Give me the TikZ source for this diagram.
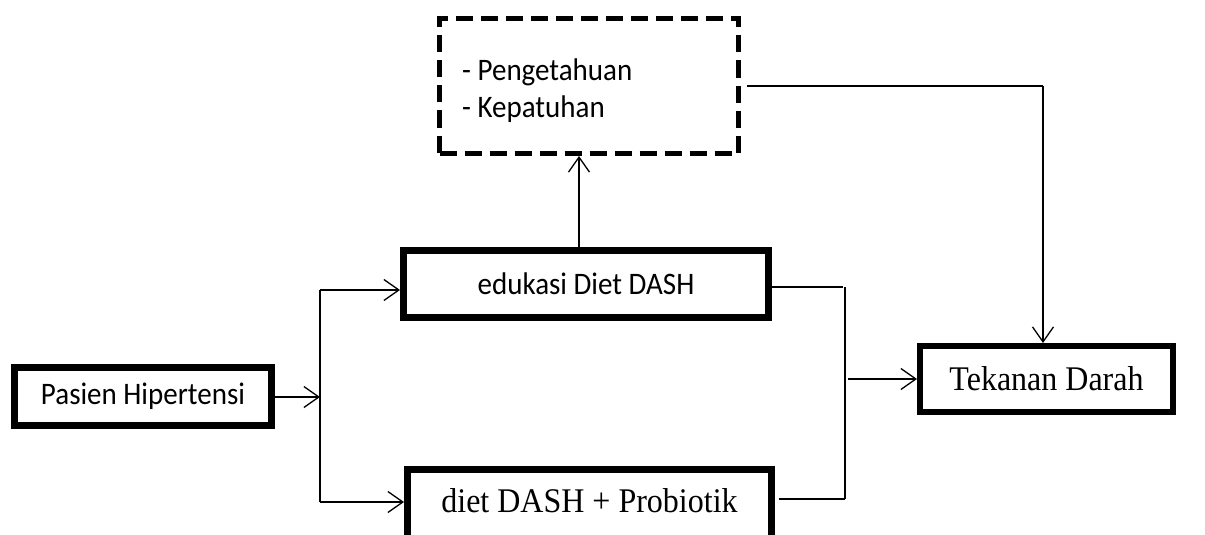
\documentclass[tikz,border=0pt]{standalone}
\usepackage{fontspec}
\usepackage{graphicx}
\newfontfamily\calfont{Carlito}
\newfontfamily\tnrfont{Liberation Serif}
\newcommand\tallt[1]{\scalebox{1}[1.08]{#1}}
\usetikzlibrary{arrows.meta,calc}
\begin{document}
\begin{tikzpicture}[x=1pt,y=-1pt,
  box/.style={draw,line width=#1,inner sep=0pt,anchor=center},
  calt/.style={font=\calfont\fontsize{29}{35}\selectfont},
  tnrt/.style={font=\tnrfont\fontsize{32}{38}\selectfont},
  arr/.style={line width=1.3pt,-{Straight Barb[length=15pt,width=21pt,line width=1.3pt]}},
  ln/.style={line width=1.3pt}]
\useasboundingbox (0,0) rectangle (1205,535);
\node[box=7pt,calt,minimum width=257pt,minimum height=58pt] (pas) at (143,396.5) {\tallt{Pasien Hipertensi}};
\node[box=7pt,calt,minimum width=365pt,minimum height=67pt] (edu) at (586,284) {\tallt{edukasi Diet DASH}};
\node[box=5pt,dash pattern=on 17pt off 8pt,minimum width=299pt,minimum height=135pt] (know) at (589,86) {};
\node[calt,anchor=west,align=left,inner sep=0pt] (knowtxt) at (462,91) {\tallt{- Pengetahuan}\\[2pt]\tallt{- Kepatuhan}};
\node[box=6pt,tnrt,minimum width=253pt,minimum height=66pt] (td) at (1046.5,379) {\tallt{Tekanan Darah}};
\node[draw,line width=7pt,inner sep=0pt,tnrt,minimum width=364pt,text height=42.5pt,text depth=40pt,anchor=base] (prob) at (589.5,512) {\tallt{diet DASH + Probiotik}};
\coordinate (split) at (320,397);
\coordinate (splitT) at (320,290);
\coordinate (splitB) at (320,502);
\coordinate (joinT) at (845,287);
\coordinate (joinB) at (845,499);
\coordinate (joinM) at (848,379);
\coordinate (corner) at (1043,86);
\draw[arr] (pas.east |- split) -- (split);
\draw[ln] (splitT) -- (splitB);
\draw[arr] (splitT) -- (edu.west |- splitT);
\draw[arr] (splitB) -- (prob.west |- splitB);
\draw[arr] ([xshift=-7pt]edu.north) -- ([xshift=-10pt]know.south);
\draw[ln] (edu.east |- joinT) -- ([xshift=-2pt]joinT);
\draw[ln] (joinT) -- (joinB);
\draw[ln] ([xshift=4pt]prob.east |- joinB) -- (joinB);
\draw[arr] (joinM) -- (td.west |- joinM);
\draw[ln] ([xshift=6pt]know.east |- corner) -- (corner);
\draw[arr] (corner) -- (td.north -| corner);
\end{tikzpicture}
\end{document}
